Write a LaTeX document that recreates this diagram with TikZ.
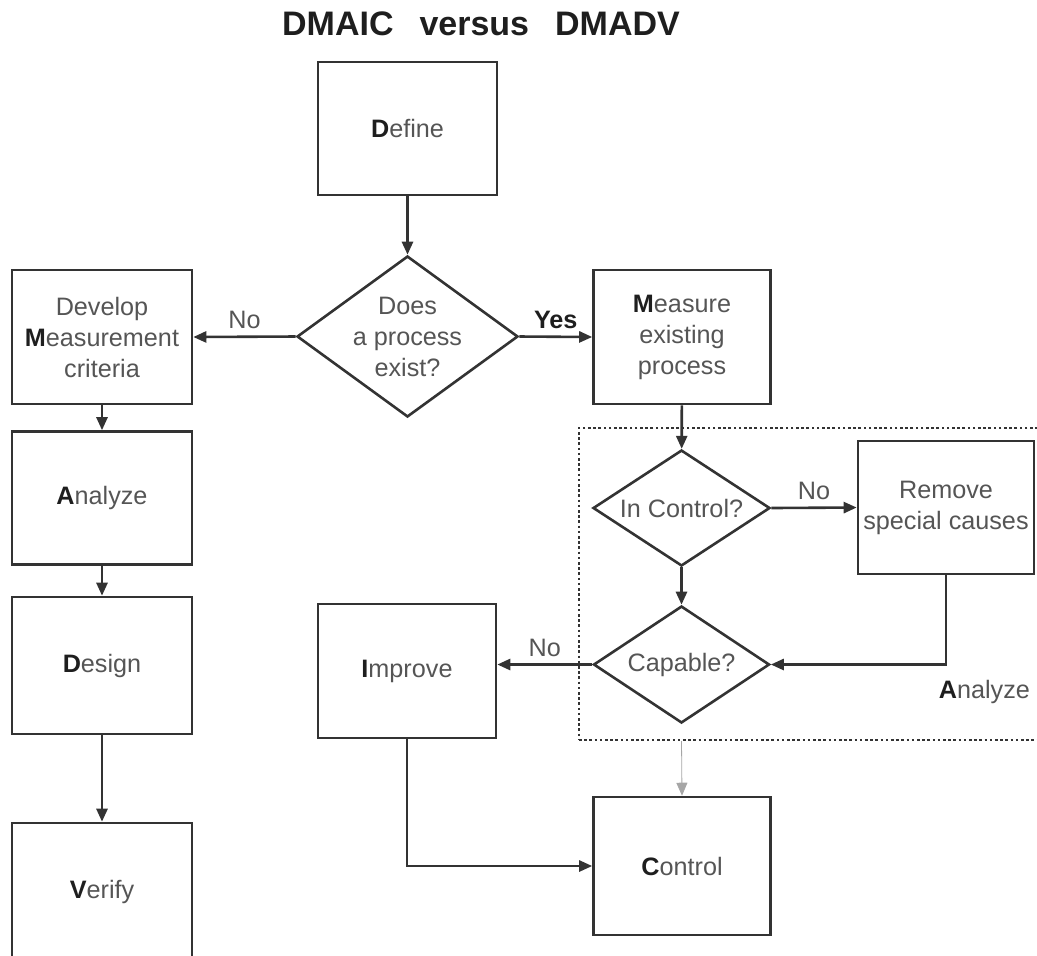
\documentclass[tikz,border=0pt]{standalone}
\usepackage{fontspec}
\setmainfont{Liberation Sans}
\usetikzlibrary{shapes.geometric,arrows.meta}
\definecolor{inkgray}{HTML}{555555}
\definecolor{inkdark}{HTML}{1E1E1E}
\definecolor{linegray}{HTML}{333333}
\newcommand{\capletter}[1]{\textcolor{inkdark}{\textbf{#1}}}
\begin{document}
\begin{tikzpicture}[x=0.5pt,y=-0.5pt,
  font=\fontsize{12.6}{15.5}\selectfont, text=inkgray,
  stage/.style={draw=linegray, line width=1.3pt, rectangle, align=center, inner sep=0pt},
  decision/.style={draw=linegray, line width=1.3pt, diamond, align=center, inner sep=-12pt},
  flow/.style={draw=linegray, line width=1.3pt, -{Triangle[length=6.5pt,width=5.5pt]}}]
  \clip (0,0) rectangle (1037,955);
  % Titre
  \node[font=\fontsize{17}{20}\selectfont\bfseries, text=inkdark, anchor=base] (title) at (481,35)
    {DMAIC\hspace{13pt}versus\hspace{13pt}DMADV};
  % Tronc commun
  \node[stage, minimum width=89.5pt, minimum height=66.5pt] (define) at (407.5,128.5) {\capletter{D}efine};
  \node[decision, minimum width=110.5pt, minimum height=80.5pt] (exists) at (407.5,336.5) {Does\\a process\\exist?};
  % DMADV
  \node[stage, minimum width=90pt, minimum height=67pt] (develop) at (102,337) {Develop\\\capletter{M}easurement\\criteria};
  \node[stage, minimum width=90pt, minimum height=66.5pt] (analyzenew) at (102,498) {\capletter{A}nalyze};
  \node[stage, minimum width=90pt, minimum height=68.5pt] (design) at (102,665.5) {\capletter{D}esign};
  \node[stage, minimum width=90pt, minimum height=68.5pt] (verify) at (102,891.5) {\capletter{V}erify};
  % DMAIC
  \node[stage, minimum width=88.5pt, minimum height=67pt] (measure) at (682,337) {\capletter{M}easure\\existing\\process};
  \node[draw=linegray, line width=1.1pt, dash pattern=on 1.3pt off 1.3pt, minimum width=233pt, minimum height=156pt] (zone) at (812,584) {};
  \node[decision, minimum width=88.5pt, minimum height=58pt] (incontrol) at (681.5,508) {In Control?};
  \node[stage, minimum width=88pt, minimum height=66.5pt] (remove) at (946,507.5) {Remove\\special causes};
  \node[decision, minimum width=88pt, minimum height=58.5pt] (capable) at (681.5,664.5) {Capable?};
  \node[anchor=east] (zonelabel) at (1037,692) {\capletter{A}nalyze};
  \node[stage, minimum width=89pt, minimum height=67pt] (improve) at (407,671) {\capletter{I}mprove};
  \node[stage, minimum width=88.5pt, minimum height=69pt] (control) at (682,866) {\capletter{C}ontrol};
  % Flèches
  \draw[flow] (define) -- (exists);
  \draw[flow] (exists.west) -- node[above] {No} (develop.east);
  \draw[flow] (exists.east) -- node[above, text=inkdark, font=\fontsize{12.6}{15.5}\selectfont\bfseries] {Yes} (measure.west);
  \draw[flow] (develop) -- (analyzenew);
  \draw[flow] (analyzenew) -- (design);
  \draw[flow] (design) -- (verify);
  \draw[flow] (measure) -- (incontrol);
  \draw[flow] (incontrol.east) -- node[above] {No} (remove.west);
  \draw[flow] (incontrol) -- (capable);
  \draw[flow] (remove.south) |- (capable.east);
  \draw[flow] (capable.west) -- node[above] {No} (capable.west -| improve.east);
  \draw[flow] (improve.south) |- (control.west);
  \draw[flow, draw=gray!70, line width=0.4pt] (zone.south -| capable.south) -- (control.north);
\end{tikzpicture}
\end{document}
